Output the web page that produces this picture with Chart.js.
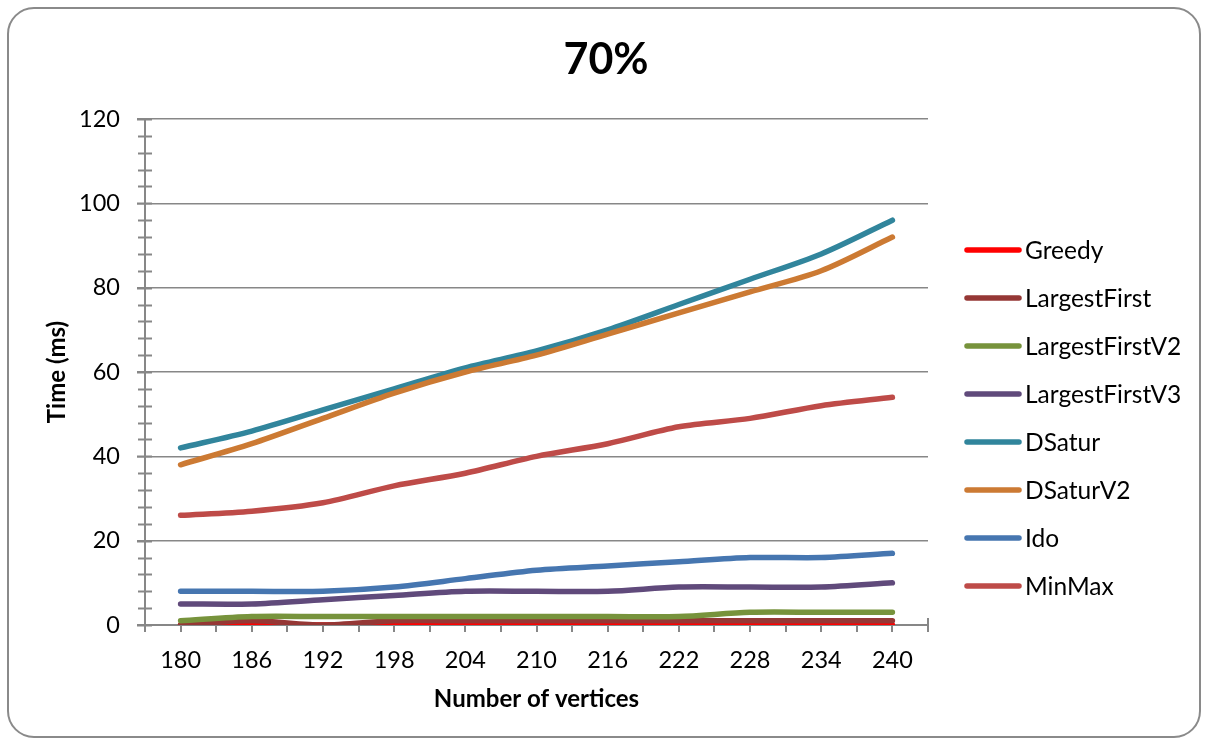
<!DOCTYPE html>
<html>
<head>
<meta charset="utf-8">
<script src="https://cdn.jsdelivr.net/npm/chart.js@4.4.0/dist/chart.umd.min.js"></script>
<style>
  html, body { margin: 0; padding: 0; background: #ffffff; }
  #c { display: block; }
</style>
</head>
<body>
<canvas id="c" width="1208" height="745"></canvas>
<script>
// Graph sizes (number of vertices) on the x axis
const vertices = ['180', '186', '192', '198', '204', '210', '216', '222', '228', '234', '240'];

// Running time in ms for each colouring algorithm
const greedy         = [0, 0, 0, 0, 0, 0, 0, 0, 0, 0, 0];
const largestFirst   = [0, 1, 0, 1, 1, 1, 1, 1, 1, 1, 1];
const largestFirstV2 = [1, 2, 2, 2, 2, 2, 2, 2, 3, 3, 3];
const largestFirstV3 = [5, 5, 6, 7, 8, 8, 8, 9, 9, 9, 10];
const dsatur         = [42, 46, 51, 56, 61, 65, 70, 76, 82, 88, 96];
const dsaturV2       = [38, 43, 49, 55, 60, 64, 69, 74, 79, 84, 92];
const ido            = [8, 8, 8, 9, 11, 13, 14, 15, 16, 16, 17];
const minMax         = [26, 27, 29, 33, 36, 40, 43, 47, 49, 52, 54];

const seriesNames  = ['Greedy', 'LargestFirst', 'LargestFirstV2', 'LargestFirstV3', 'DSatur', 'DSaturV2', 'Ido', 'MinMax'];
const seriesValues = [greedy, largestFirst, largestFirstV2, largestFirstV3, dsatur, dsaturV2, ido, minMax];
const seriesColors = ['#FF0000', '#953735', '#77933C', '#604A7B', '#31859C', '#CC7A33', '#4676B0', '#BE4B48'];

const chartTitle = '70%';

// Y axis range and tick spacing
const yMin = 0, yMax = 120, yStep = 20, yMinorStep = 4;

const FONT = 'Lato, "Liberation Sans", sans-serif';
const AXIS_GRAY = '#878787';

const datasets = seriesNames.map((name, i) => ({
  label: name,
  data: seriesValues[i],
  borderColor: seriesColors[i],
  backgroundColor: seriesColors[i],
  borderWidth: 5.5,
  borderCapStyle: 'round',
  borderJoinStyle: 'round',
  pointRadius: 0,
  pointHoverRadius: 0,
  tension: 0.3,
  fill: false,
  order: -i            // later series are painted over earlier ones
}));

// Rounded outer frame and the centred chart title
const framePlugin = {
  id: 'frame',
  beforeDraw(chart) {
    const ctx = chart.ctx;
    ctx.save();
    ctx.fillStyle = '#ffffff';
    ctx.fillRect(0, 0, chart.width, chart.height);
    ctx.beginPath();
    ctx.roundRect(8, 8, 1192, 729, 26);
    ctx.lineWidth = 2;
    ctx.strokeStyle = '#8a8a8a';
    ctx.stroke();
    ctx.font = 'bold 43px ' + FONT;
    ctx.fillStyle = '#000000';
    ctx.textAlign = 'center';
    ctx.textBaseline = 'middle';
    ctx.fillText(chartTitle, chart.width / 2 + 2, 60);
    ctx.restore();
  }
};

// Minor tick marks on both axes
const tickPlugin = {
  id: 'axisTicks',
  beforeDatasetsDraw(chart) {
    const ctx = chart.ctx;
    const x = chart.scales.x, y = chart.scales.y;
    const area = chart.chartArea;
    ctx.save();
    ctx.strokeStyle = AXIS_GRAY;
    ctx.lineWidth = 2;
    ctx.beginPath();
    // y minor ticks crossing the axis
    for (let v = yMin; v <= yMax; v += yMinorStep) {
      if (v % yStep === 0) continue;
      const py = Math.round(y.getPixelForValue(v)) + 0.5;
      ctx.moveTo(area.left - 7, py);
      ctx.lineTo(area.left + 7, py);
    }
    // y major ticks crossing the axis
    for (let v = yMin; v <= yMax; v += yStep) {
      const py = Math.round(y.getPixelForValue(v)) + 0.5;
      ctx.moveTo(area.left - 8, py);
      ctx.lineTo(area.left + 7, py);
    }
    // y axis line runs slightly below the x axis
    ctx.moveTo(area.left, area.bottom);
    ctx.lineTo(area.left, area.bottom + 7);
    // x ticks at category centres and boundaries
    const half = (x.getPixelForValue(1) - x.getPixelForValue(0)) / 2;
    for (let i = 0; i < vertices.length; i++) {
      const c = x.getPixelForValue(i);
      [c, c + half].forEach(px => {
        if (px >= area.right - 1) return;
        const rx = Math.round(px);
        ctx.moveTo(rx, area.bottom);
        ctx.lineTo(rx, area.bottom + 7);
      });
    }
    // end tick at the right edge of the x axis
    ctx.moveTo(area.right, area.bottom - 7);
    ctx.lineTo(area.right, area.bottom + 7);
    ctx.stroke();
    ctx.restore();
  }
};

// Legend on the right, one entry per series
const legendPlugin = {
  id: 'sideLegend',
  afterDraw(chart) {
    const ctx = chart.ctx;
    ctx.save();
    ctx.font = '24.5px ' + FONT;
    ctx.textBaseline = 'middle';
    ctx.textAlign = 'left';
    chart.data.datasets.forEach((ds, i) => {
      const cy = 250 + i * 48;
      ctx.beginPath();
      ctx.strokeStyle = ds.borderColor;
      ctx.lineWidth = 5.5;
      ctx.lineCap = 'round';
      ctx.moveTo(967, cy);
      ctx.lineTo(1019, cy);
      ctx.stroke();
      ctx.fillStyle = '#000000';
      ctx.fillText(ds.label, 1025, cy + 1);
    });
    ctx.restore();
  }
};

new Chart(document.getElementById('c'), {
  type: 'line',
  data: { labels: vertices, datasets },
  plugins: [framePlugin, tickPlugin, legendPlugin],
  options: {
    responsive: false,
    animation: false,
    devicePixelRatio: 1,
    layout: { padding: { left: 0, right: 280, top: 119, bottom: 0 } },
    plugins: {
      legend: { display: false },
      tooltip: { enabled: false },
      title: { display: false }
    },
    scales: {
      x: {
        type: 'category',
        offset: true,
        grid: { display: false, drawTicks: false },
        border: { display: true, color: AXIS_GRAY, width: 2 },
        ticks: { color: '#000000', font: { family: FONT, size: 23.5 }, padding: 21, maxRotation: 0, autoSkip: false },
        title: {
          display: true,
          text: 'Number of vertices',
          color: '#000000',
          font: { family: FONT, size: 24, weight: 'bold', lineHeight: 1.2 },
          padding: { top: 0, bottom: 31 }
        },
        afterFit(s) { s.height = 120; }
      },
      y: {
        min: yMin,
        max: yMax,
        grid: { color: AXIS_GRAY, lineWidth: 1.5, drawTicks: true, tickLength: 8 },
        border: { display: true, color: AXIS_GRAY, width: 2 },
        ticks: { stepSize: yStep, color: '#000000', font: { family: FONT, size: 23.5 }, padding: 17 },
        title: {
          display: true,
          text: 'Time (ms)',
          color: '#000000',
          font: { family: FONT, size: 24, weight: 'bold', lineHeight: 1.2 },
          padding: { top: 43, bottom: 0 }
        },
        afterFit(s) { s.width = 145; }
      }
    }
  }
});
</script>
</body>
</html>
